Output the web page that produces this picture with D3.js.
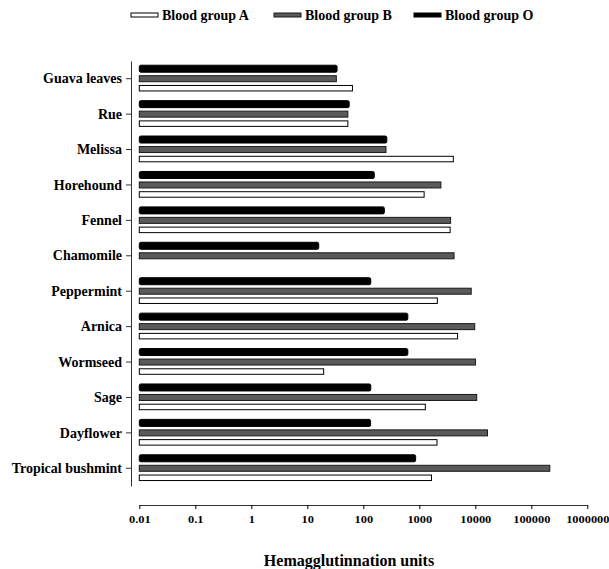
<!DOCTYPE html>
<html>
<head>
<meta charset="utf-8">
<script src="https://cdn.jsdelivr.net/npm/d3@7"></script>
<style>
  body { margin: 0; background: #fff; }
  text { font-family: "Liberation Serif", "Times New Roman", serif; font-weight: bold; }
</style>
</head>
<body>
<svg id="chart" width="609" height="569"></svg>
<script>
// data (hemagglutination units, log scale)
var plants = ["Guava leaves", "Rue", "Melissa", "Horehound", "Fennel", "Chamomile",
    "Peppermint", "Arnica", "Wormseed", "Sage", "Dayflower", "Tropical bushmint"];
var groupA = [64, 53, 4050, 1220, 3550, null, 2100, 4830, 19.6, 1280, 2070, 1650];
var groupB = [33, 53, 254, 2430, 3620, 4170, 8450, 9770, 10100, 10600, 16500, 214000];
var groupO = [34, 56, 263, 157, 238, 16, 136, 624, 624, 136, 135, 860];
var xTicks = [0.01, 0.1, 1, 10, 100, 1000, 10000, 100000, 1000000];
var tickLabels = ["0.01", "0.1", "1", "10", "100", "1000", "10000", "100000", "1000000"];

var series = [
    { name: "Blood group O", values: groupO, fill: "#000", stroke: "#000", off: -10, h: 7 },
    { name: "Blood group B", values: groupB, fill: "#5a5a5a", stroke: "#1a1a1a", off: 0, h: 6 },
    { name: "Blood group A", values: groupA, fill: "#fff", stroke: "#000", off: 9.5, h: 5.5 }
];

var svg = d3.select("#chart");

var xScale = d3.scaleLog().domain([0.01, 1000000]).range([139.3, 587.3]);
var yScale = d3.scaleBand().domain(plants).range([61, 486]);

// bars
series.forEach(function (s) {
    svg.append("g")
        .selectAll("rect")
        .data(plants.map(function (p, i) { return { plant: p, v: s.values[i] }; })
            .filter(function (d) { return d.v != null; }))
        .enter()
        .append("rect")
        .attr("x", xScale(0.01))
        .attr("y", function (d) { return yScale(d.plant) + yScale.bandwidth() / 2 + s.off - s.h / 2; })
        .attr("width", function (d) { return xScale(d.v) - xScale(0.01); })
        .attr("height", s.h)
        .attr("rx", s.name == "Blood group O" ? 1.5 : 0)
        .style("fill", s.fill)
        .style("stroke", s.stroke)
        .style("stroke-width", 1);
});

// y axis
var yAxis = d3.axisLeft(yScale).tickSize(5).tickSizeOuter(0).tickPadding(4);
var gy = svg.append("g").attr("transform", "translate(131,0)").call(yAxis);
gy.selectAll("text").style("font-size", "14px").style("fill", "#000").attr("dy", "0.33em");
gy.selectAll("line").style("stroke", "#333");
gy.select(".domain").style("stroke", "#333");

// x axis
var xAxis = d3.axisBottom(xScale).tickValues(xTicks)
    .tickFormat(function (d, i) { return tickLabels[i]; })
    .tickSizeInner(-4).tickSizeOuter(0);
var gx = svg.append("g").attr("transform", "translate(0,505)").call(xAxis);
gx.selectAll("line").attr("y2", 4);
gx.selectAll("text")
    .style("font-size", "10px").style("fill", "#000")
    .attr("y", 11)
    .attr("transform", "scale(1.24,1)");
gx.select(".domain").style("stroke", "#333");

svg.append("text")
    .attr("x", 349)
    .attr("y", 566)
    .attr("text-anchor", "middle")
    .style("font-size", "16px")
    .text("Hemagglutinnation units");

// legend
var legend = [
    { name: "Blood group A", fill: "#fff", stroke: "#000", x: 131 },
    { name: "Blood group B", fill: "#5a5a5a", stroke: "#1a1a1a", x: 274 },
    { name: "Blood group O", fill: "#000", stroke: "#000", x: 414 }
];
var lg = svg.append("g").selectAll("g").data(legend).enter().append("g")
    .attr("transform", function (d) { return "translate(" + d.x + ",13)"; });
lg.append("rect")
    .attr("width", 27).attr("height", 4)
    .style("fill", function (d) { return d.fill; })
    .style("stroke", function (d) { return d.stroke; })
    .style("stroke-width", 1);
lg.append("text")
    .attr("x", 31).attr("y", 7)
    .style("font-size", "14px")
    .text(function (d) { return d.name; });
</script>
</body>
</html>
